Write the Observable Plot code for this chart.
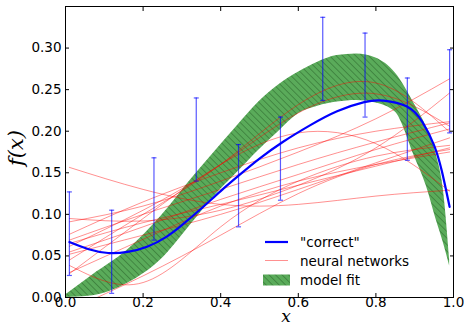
<!DOCTYPE html>
<html><head><meta charset="utf-8">
<script src="https://cdn.jsdelivr.net/npm/d3@7"></script>
<script src="https://cdn.jsdelivr.net/npm/@observablehq/plot@0.6"></script>
<style>body{margin:0;background:#fff;}</style>
</head><body><div id="chart"></div>
<script>
// ---- data ----
const xTicks = [0, 0.2, 0.4, 0.6, 0.8, 1.0];
const yTicks = [0, 0.05, 0.10, 0.15, 0.20, 0.25, 0.30];

// noisy observations with error bars
const errX    = [0.01, 0.119, 0.228, 0.337, 0.446, 0.554, 0.663, 0.772, 0.881, 0.99];
const errLow  = [0.0265, 0.005, 0.069, 0.140, 0.085, 0.117, 0.237, 0.217, 0.165, 0.198];
const errHigh = [0.127, 0.105, 0.168, 0.240, 0.184, 0.217, 0.337, 0.318, 0.264, 0.298];

// "correct" curve
const trueX = [0.01, 0.06, 0.11, 0.16, 0.21, 0.26, 0.30, 0.35, 0.40, 0.45, 0.50, 0.56, 0.63, 0.70, 0.77, 0.82, 0.88, 0.92, 0.95, 0.97, 0.99];
const trueY = [0.0667, 0.058, 0.0535, 0.0548, 0.061, 0.073, 0.087, 0.107, 0.128, 0.148, 0.167, 0.187, 0.207, 0.224, 0.235, 0.2368, 0.2296, 0.211, 0.183, 0.152, 0.109];

// model fit band
const fitX  = [0, 0.07, 0.16, 0.245, 0.32, 0.38, 0.44, 0.5, 0.55, 0.6, 0.65, 0.7, 0.75, 0.8, 0.85, 0.9, 0.93, 0.955, 0.975, 0.99];
const fitLo = [0.0, 0.002, 0.017, 0.045, 0.086, 0.12, 0.149, 0.178, 0.200, 0.221, 0.230, 0.235, 0.237, 0.234, 0.223, 0.169, 0.134, 0.094, 0.064, 0.038];
const fitHi = [0.003, 0.027, 0.057, 0.097, 0.140, 0.173, 0.205, 0.236, 0.256, 0.271, 0.283, 0.291, 0.293, 0.288, 0.270, 0.232, 0.205, 0.173, 0.125, 0.045];

// neural network fits
const netX = [0.01, 0.2, 0.4, 0.6, 0.8, 0.99];
const nets = [
  [0.045, 0.100, 0.160, 0.232, 0.258, 0.199],
  [0.0615, 0.105, 0.160, 0.222, 0.245, 0.206],
  [0.0286, 0.095, 0.160, 0.198, 0.185, 0.128],
  [0.1565, 0.130, 0.112, 0.112, 0.122, 0.129],
  [0.091, 0.110, 0.140, 0.175, 0.215, 0.263],
  [0.095, 0.092, 0.105, 0.135, 0.180, 0.246],
  [0.076, 0.115, 0.150, 0.180, 0.200, 0.2115],
  [0.069, 0.100, 0.130, 0.160, 0.187, 0.210],
  [0.0547, 0.085, 0.118, 0.148, 0.178, 0.2027],
  [0.052, 0.075, 0.100, 0.130, 0.162, 0.192],
  [0.0386, 0.018, 0.085, 0.140, 0.170, 0.183],
  [-0.015, 0.026, 0.075, 0.125, 0.160, 0.178],
  [0.030, 0.070, 0.110, 0.140, 0.160, 0.175],
  [0.065, 0.090, 0.112, 0.135, 0.158, 0.180]
];

// ---- tables ----
const errData = errX.map((x, i) => ({x, lo: errLow[i], hi: errHigh[i]}));
const trueData = trueX.map((x, i) => ({x, y: trueY[i]}));
const fitData = fitX.map((x, i) => ({x, lo: fitLo[i], hi: fitHi[i]}));
const netData = nets.flatMap((s, k) => s.map((y, i) => ({x: netX[i], y, k})));

const cap = {draw(ctx) { ctx.moveTo(-2.5, 0); ctx.lineTo(2.5, 0); }};

const chart = Plot.plot({
  width: 464, height: 325,
  marginLeft: 65, marginRight: 11, marginTop: 6, marginBottom: 28,
  style: {fontFamily: "DejaVu Sans", fontSize: "13.5px", background: "white", color: "black"},
  x: {domain: [0, 1]},
  y: {domain: [0, 0.35]},
  marks: [
    Plot.areaY(fitData, {x: "x", y1: "lo", y2: "hi", curve: "monotone-x", fill: "url(#hatch)", clip: true}),
    Plot.line(netData, {x: "x", y: "y", z: "k", curve: "natural", stroke: "#ff0000", strokeOpacity: 0.55, strokeWidth: 0.8, clip: true}),
    Plot.line(trueData, {x: "x", y: "y", curve: "natural", stroke: "#0000ff", strokeWidth: 2.2}),
    Plot.ruleX(errData, {x: "x", y1: "lo", y2: "hi", stroke: "#0000ff", strokeOpacity: 0.65, strokeWidth: 1.2}),
    Plot.dot(errData, {x: "x", y: "lo", symbol: cap, fill: "none", stroke: "#0000ff", strokeOpacity: 0.65, strokeWidth: 1.2}),
    Plot.dot(errData, {x: "x", y: "hi", symbol: cap, fill: "none", stroke: "#0000ff", strokeOpacity: 0.65, strokeWidth: 1.2}),
    Plot.frame({stroke: "black"}),
    Plot.axisX(xTicks, {anchor: "bottom", tickSize: -4, tickPadding: 4, tickFormat: d3.format(".1f"), label: null}),
    Plot.axisX(xTicks, {anchor: "top", tickSize: -4, tickFormat: () => "", label: null}),
    Plot.axisY(yTicks, {anchor: "left", tickSize: -4, tickPadding: 8, tickFormat: d3.format(".2f"), label: null}),
    Plot.axisY(yTicks, {anchor: "right", tickSize: -4, tickFormat: () => "", label: null})
  ]
});

const svg = d3.select(chart);
const defs = svg.insert("defs", ":first-child");
const hs = 4.6;
const pat = defs.append("pattern").attr("id", "hatch")
  .attr("patternUnits", "userSpaceOnUse").attr("width", hs).attr("height", hs)
  .attr("patternTransform", "rotate(-45)");
pat.append("rect").attr("width", hs).attr("height", hs).attr("fill", "#5aab5a");
pat.append("line").attr("x1", 0).attr("y1", 0).attr("x2", 0).attr("y2", hs)
  .attr("stroke", "#2e6a2e").attr("stroke-width", 1.3).attr("stroke-opacity", 0.85);

// legend
const lg = svg.append("g").attr("font-family", "DejaVu Sans").attr("font-size", "13.5px").attr("text-anchor", "start").attr("fill", "black");
lg.append("line").attr("x1", 265).attr("x2", 288).attr("y1", 242).attr("y2", 242).attr("stroke", "#0000ff").attr("stroke-width", 2.2);
lg.append("line").attr("x1", 265).attr("x2", 288).attr("y1", 260.5).attr("y2", 260.5).attr("stroke", "#ff0000").attr("stroke-opacity", 0.55).attr("stroke-width", 0.8);
lg.append("rect").attr("x", 263).attr("y", 274.5).attr("width", 27).attr("height", 11).attr("fill", "url(#hatch)");
lg.append("text").attr("x", 300).attr("y", 246.5).text('"correct"');
lg.append("text").attr("x", 300).attr("y", 266).text("neural networks");
lg.append("text").attr("x", 300).attr("y", 285).text("model fit");

// axis labels
svg.append("text").attr("x", 286).attr("y", 321.5).attr("text-anchor", "middle")
  .attr("font-family", "DejaVu Serif").attr("font-style", "italic").attr("font-size", "17px").attr("fill", "black").text("x");
svg.append("text").attr("transform", "translate(23,148) rotate(-90)").attr("text-anchor", "middle")
  .attr("font-family", "DejaVu Serif").attr("font-style", "italic").attr("font-size", "21px").attr("fill", "black").text("f(x)");

document.getElementById("chart").appendChild(chart);
</script>
</body></html>
